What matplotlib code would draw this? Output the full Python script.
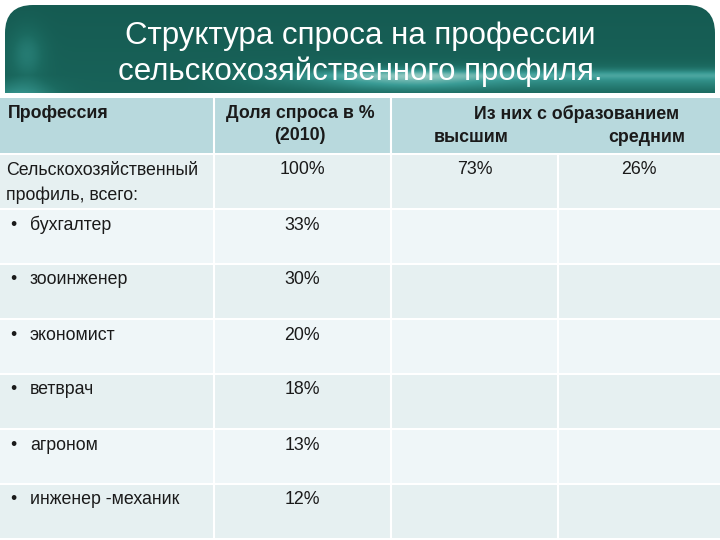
import numpy as np
import matplotlib
matplotlib.use("Agg")
import matplotlib.pyplot as plt
from matplotlib.patches import Rectangle, FancyBboxPatch
from matplotlib.colors import LinearSegmentedColormap

title_lines = ["Структура спроса на профессии", "сельскохозяйственного профиля."]

header_col0 = "Профессия"
header_col1 = ["Доля спроса в %", "(2010)"]
header_group = "Из них с образованием"
header_sub = ["высшим", "средним"]

professions = ["Сельскохозяйственный\nпрофиль, всего:", "бухгалтер", "зооинженер",
               "экономист", "ветврач", "агроном", "инженер -механик"]
bullets = [False, True, True, True, True, True, True]
demand_share = ["100%", "33%", "30%", "20%", "18%", "13%", "12%"]
higher_ed = ["73%", "", "", "", "", "", ""]
secondary_ed = ["26%", "", "", "", "", "", ""]

col_edges = [0, 214, 391, 558, 720]
header_top, header_bot = 98, 153
row_h = 55

fig = plt.figure(figsize=(7.2, 5.4), dpi=100)
ax = fig.add_axes([0, 0, 1, 1])
ax.set_xlim(0, 720)
ax.set_ylim(540, 0)
ax.axis("off")

# banner with teal gradient
ny, nx = 90, 360
yy, xx = np.mgrid[0:1:ny * 1j, 0:1:nx * 1j]
val = 0.18 + 0.08 * yy
val += 0.3 * np.exp(-((yy - 0.84) / 0.14) ** 2) * np.clip((xx - 0.25) / 0.25, 0, 1)
val += 0.2 * np.exp(-((yy - 0.8) / 0.05) ** 2) * np.clip((xx - 0.3) / 0.2, 0, 1)
val += 0.25 * np.exp(-((xx - 0.58) / 0.1) ** 2 - ((yy - 0.85) / 0.12) ** 2)
val += 0.22 * np.exp(-((xx - 0.03) / 0.025) ** 2 - ((yy - 0.55) / 0.3) ** 2)
val += 0.3 * np.clip((yy - 0.8) / 0.2, 0, 1) * np.exp(-((xx - 0.02) / 0.05) ** 2)
cmap = LinearSegmentedColormap.from_list("teal", ["#0f4a42", "#1b6a60", "#3a9c96", "#9fd0c8"])
banner = FancyBboxPatch((5, 5), 710, 140, boxstyle="round,pad=0,rounding_size=28",
                        transform=ax.transData, facecolor="none", edgecolor="none")
ax.add_patch(banner)
img = ax.imshow(val, extent=(5, 715, 93, 5), cmap=cmap, vmin=0, vmax=1,
                aspect="auto", interpolation="bilinear", zorder=1)
img.set_clip_path(banner)

title_font = ["Liberation Sans", "DejaVu Sans"]
for i, line in enumerate(title_lines):
    ax.text(360, 36 + i * 36, line, color="white", fontsize=22.5, ha="center", va="center",
            family=title_font, zorder=3)

body_font = ["Liberation Sans", "DejaVu Sans"]
fs = 12.8
text_col = "#1a1a1a"

# header
ax.add_patch(Rectangle((0, header_top), 720, header_bot - header_top,
                       facecolor="#b8d9dd", edgecolor="none", zorder=2))
ax.plot([col_edges[1]] * 2, [header_top, header_bot], color="white", lw=1.5, zorder=3)
ax.plot([col_edges[2]] * 2, [header_top, header_bot], color="white", lw=1.5, zorder=3)
ax.text(8, 114, header_col0, fontsize=fs, fontweight="bold", family=body_font,
        va="center", color=text_col, zorder=4)
for i, s in enumerate(header_col1):
    ax.text(300, 114 + i * 22, s, fontsize=fs, fontweight="bold", family=body_font,
            ha="center", va="center", color=text_col, zorder=4)
ax.text(577, 114, header_group, fontsize=fs, fontweight="bold", family=body_font,
        ha="center", va="center", color=text_col, zorder=4)
for x, s in zip([471, 647], header_sub):
    ax.text(x, 137, s, fontsize=fs, fontweight="bold", family=body_font,
            ha="center", va="center", color=text_col, zorder=4)

# body rows
row_colors = ["#e6f0f1", "#eff6f8"]
for r, name in enumerate(professions):
    top = header_bot + 2 + r * row_h
    ax.add_patch(Rectangle((0, top), 720, row_h - 2, facecolor=row_colors[r % 2],
                           edgecolor="none", zorder=2))
    for xe in col_edges[1:4]:
        ax.plot([xe] * 2, [top, top + row_h - 2], color="white", lw=1.5, zorder=3)
    ty = top + 15
    if bullets[r]:
        ax.text(10, ty, "•", fontsize=fs, family=body_font, va="center", color=text_col, zorder=4)
        ax.text(30, ty, name, fontsize=fs, family=body_font, va="center", color=text_col, zorder=4)
    else:
        ax.text(6, ty - 8, name, fontsize=fs, family=body_font, va="top", color=text_col,
                linespacing=1.55, zorder=4)
    for c, vals in zip([1, 2, 3], [demand_share, higher_ed, secondary_ed]):
        cx = (col_edges[c] + col_edges[c + 1]) / 2
        if c == 1:
            cx = 302
        ax.text(cx, ty, vals[r], fontsize=fs, family=body_font, ha="center", va="center",
                color=text_col, zorder=4)

fig.savefig("out.png", dpi=100, facecolor="white")
